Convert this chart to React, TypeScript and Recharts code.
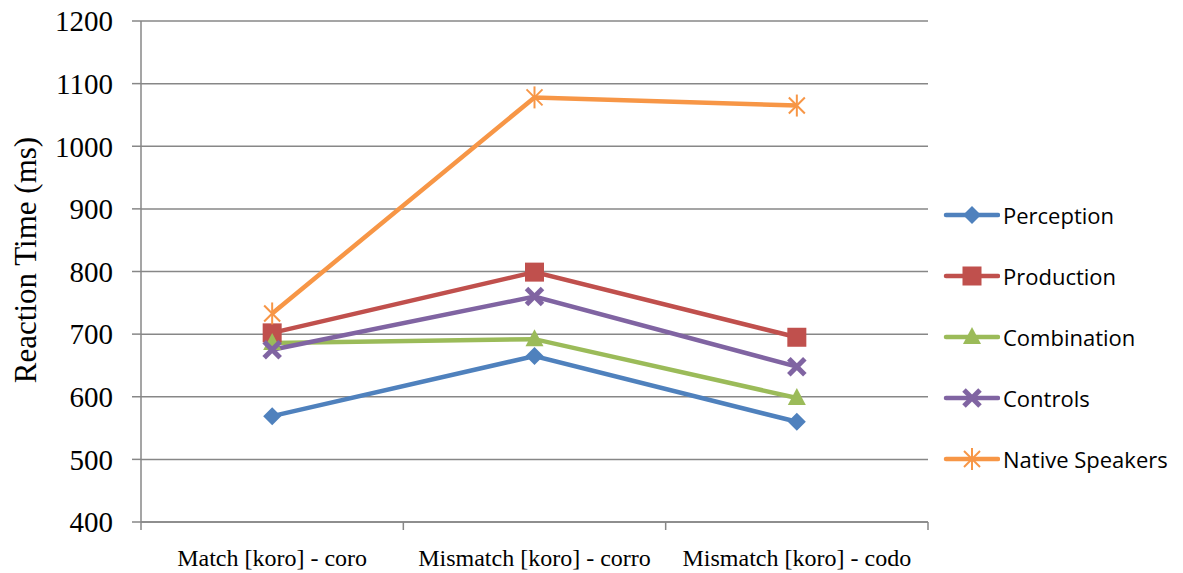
import { LineChart, Line, XAxis, YAxis, CartesianGrid } from 'recharts';

const CATEGORIES = ['Match [koro] - coro', 'Mismatch [koro] - corro', 'Mismatch [koro] - codo'];
const PERCEPTION = [569, 665, 560];
const PRODUCTION = [702, 799, 695];
const COMBINATION = [686, 692, 598];
const CONTROLS = [675, 760, 648];
const NATIVE = [733, 1078, 1065];
const Y_TICKS = [400, 500, 600, 700, 800, 900, 1000, 1100, 1200];
// category centres carry labels, whole numbers are the boundary tick marks
const X_TICKS = [0, 0.5, 1, 1.5, 2, 2.5, 3];

const SERIES = [
  { key: 'perception', name: 'Perception', color: '#4F81BD', shape: 'diamond', values: PERCEPTION },
  { key: 'production', name: 'Production', color: '#C0504D', shape: 'square', values: PRODUCTION },
  { key: 'combination', name: 'Combination', color: '#9BBB59', shape: 'triangle', values: COMBINATION },
  { key: 'controls', name: 'Controls', color: '#8064A2', shape: 'cross', values: CONTROLS },
  { key: 'native', name: 'Native Speakers', color: '#F79646', shape: 'star', values: NATIVE },
];

const data = CATEGORIES.map((c, i) => {
  const row: Record<string, number | string> = { name: c, x: i + 0.5 };
  for (const s of SERIES) row[s.key] = s.values[i];
  return row;
});

function Marker({ shape, color, cx, cy }: { shape: string; color: string; cx: number; cy: number }) {
  if (cx == null || cy == null) return null;
  switch (shape) {
    case 'diamond':
      return <polygon points={`${cx},${cy - 9} ${cx + 9},${cy} ${cx},${cy + 9} ${cx - 9},${cy}`} fill={color} />;
    case 'square':
      return <rect x={cx - 9.5} y={cy - 9.5} width={19} height={19} fill={color} />;
    case 'triangle':
      return <polygon points={`${cx},${cy - 10} ${cx + 9},${cy + 7} ${cx - 9},${cy + 7}`} fill={color} />;
    case 'cross':
      return (
        <g stroke={color} strokeWidth={5}>
          <line x1={cx - 8} y1={cy - 8} x2={cx + 8} y2={cy + 8} />
          <line x1={cx - 8} y1={cy + 8} x2={cx + 8} y2={cy - 8} />
        </g>
      );
    case 'star':
      return (
        <g stroke={color} strokeWidth={2}>
          <line x1={cx - 8} y1={cy - 8} x2={cx + 8} y2={cy + 8} />
          <line x1={cx - 8} y1={cy + 8} x2={cx + 8} y2={cy - 8} />
          <line x1={cx} y1={cy - 11} x2={cx} y2={cy + 11} />
        </g>
      );
    default:
      return null;
  }
}

function XTick({ x, y, payload }: any) {
  const v = payload.value as number;
  if (Number.isInteger(v)) {
    return <line x1={x} y1={y} x2={x} y2={y + 8} stroke="#878787" strokeWidth={1.5} />;
  }
  return (
    <text
      x={x}
      y={y + 27}
      dy="0.71em"
      textAnchor="middle"
      style={{ fontFamily: '"Liberation Serif", serif', fontSize: 24, fill: '#000' }}
    >
      {CATEGORIES[Math.floor(v)]}
    </text>
  );
}

function LegendBox() {
  return (
    <div
      style={{
        position: 'absolute',
        left: 943,
        top: 184,
        fontFamily: '"Open Sans", "Noto Sans", sans-serif',
        fontSize: 22,
        color: '#000',
      }}
    >
      {SERIES.map((s) => (
        <div key={s.key} style={{ display: 'flex', alignItems: 'center', height: 61 }}>
          <svg width={57} height={24}>
            <line x1={3} y1={12} x2={55} y2={12} stroke={s.color} strokeWidth={4.5} strokeLinecap="round" />
            <Marker shape={s.shape} color={s.color} cx={29} cy={12} />
          </svg>
          <span style={{ marginLeft: 3 }}>{s.name}</span>
        </div>
      ))}
    </div>
  );
}

function YTitle() {
  return (
    <text
      x={25}
      y={260}
      transform="rotate(-90, 25, 260)"
      textAnchor="middle"
      dominantBaseline="central"
      style={{ fontFamily: '"Liberation Serif", serif', fontSize: 31, fill: '#000' }}
    >
      Reaction Time (ms)
    </text>
  );
}

export default function App() {
  return (
    <div style={{ position: 'absolute', left: 0, top: 0, width: 1183, height: 573, background: '#fff' }}>
      <LineChart width={1183} height={573} data={data} margin={{ top: 21, right: 255, bottom: 0, left: 0 }}>
        <CartesianGrid vertical={false} stroke="#878787" strokeWidth={1.5} />
        <XAxis
          dataKey="x"
          type="number"
          domain={[0, 3]}
          ticks={X_TICKS}
          interval={0}
          height={51}
          tickLine={false}
          tickSize={0}
          tickMargin={0}
          axisLine={{ stroke: '#878787', strokeWidth: 1.5 }}
          tick={<XTick />}
        />
        <YAxis
          domain={[400, 1200]}
          ticks={Y_TICKS}
          interval={0}
          width={141}
          tickSize={9}
          tickMargin={19}
          axisLine={{ stroke: '#878787', strokeWidth: 1.5 }}
          tickLine={{ stroke: '#878787', strokeWidth: 1.5 }}
          tick={{ fontFamily: '"Liberation Serif", serif', fontSize: 29, fill: '#000' }}
          label={{ content: () => <YTitle /> }}
        />
        {SERIES.map((s) => (
          <Line
            key={s.key}
            dataKey={s.key}
            name={s.name}
            stroke={s.color}
            strokeWidth={4.5}
            isAnimationActive={false}
            dot={(p: any) => <Marker key={`${s.key}-${p.index}`} shape={s.shape} color={s.color} cx={p.cx} cy={p.cy} />}
            activeDot={false}
          />
        ))}
      </LineChart>
      <LegendBox />
    </div>
  );
}
